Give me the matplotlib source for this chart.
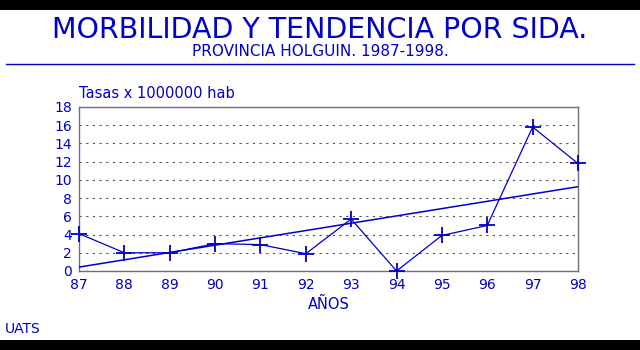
import numpy as np
import matplotlib
matplotlib.use("Agg")
import matplotlib.pyplot as plt
from matplotlib.patches import Rectangle
from matplotlib.lines import Line2D

# data
years = [87, 88, 89, 90, 91, 92, 93, 94, 95, 96, 97, 98]
tasas = [4.1, 2.0, 2.0, 3.0, 2.9, 1.9, 5.7, 0.0, 3.9, 5.0, 15.8, 11.8]
y_ticks = [0, 2, 4, 6, 8, 10, 12, 14, 16, 18]

BLUE = "#0000c8"
plt.rcParams["font.family"] = ["DejaVu Sans"]

fig = plt.figure(figsize=(6.4, 3.5), dpi=100)
fig.patch.set_facecolor("white")

# black bars top / bottom
fig.patches.append(Rectangle((0, 1 - 10 / 350), 1, 10 / 350, transform=fig.transFigure,
                             fc="black", ec="none", zorder=0))
fig.patches.append(Rectangle((0, 0), 1, 10 / 350, transform=fig.transFigure,
                             fc="black", ec="none", zorder=0))

fig.text(0.5, 1 - 30 / 350, "MORBILIDAD Y TENDENCIA POR SIDA.", ha="center", va="center",
         fontsize=20.5, color=BLUE)
fig.text(0.5, 1 - 51 / 350, "PROVINCIA HOLGUIN. 1987-1998.", ha="center", va="center",
         fontsize=11, color=BLUE)
fig.lines.append(Line2D([6 / 640, 634 / 640], [1 - 64 / 350] * 2, transform=fig.transFigure,
                        color=BLUE, lw=1))

ax = fig.add_axes([79 / 640, 1 - 271 / 350, (578 - 79) / 640, (271 - 107) / 350])
x = np.array(years)
y = np.array(tasas)
ax.plot(x, y, color=BLUE, lw=0.9, marker="+", ms=11, mew=1.3, clip_on=False, zorder=3)
b, a = np.polyfit(x, y, 1)
ax.plot([x[0], x[-1]], [a + b * x[0], a + b * x[-1]], color=BLUE, lw=1.1, zorder=3)

ax.set_xlim(87, 98)
ax.set_ylim(0, 18)
ax.set_xticks(years)
ax.set_xticklabels([str(v) for v in years])
ax.set_yticks(y_ticks)
ax.tick_params(length=0, labelsize=10, labelcolor=BLUE, pad=5)
ax.yaxis.grid(True, linestyle=(0, (2, 4)), color="#555555", lw=0.8)
for s in ax.spines.values():
    s.set_color("#707070")
    s.set_linewidth(1)

fig.text(79 / 640, 1 - 94 / 350, "Tasas x 1000000 hab", ha="left", va="center",
         fontsize=10.5, color=BLUE)
fig.text(0.5 * (79 + 578) / 640, 1 - 304 / 350, "AÑOS", ha="center", va="center",
         fontsize=10.5, color=BLUE)
fig.text(5 / 640, 1 - 329 / 350, "UATS", ha="left", va="center", fontsize=10, color=BLUE)

fig.savefig("out.png", dpi=100)
